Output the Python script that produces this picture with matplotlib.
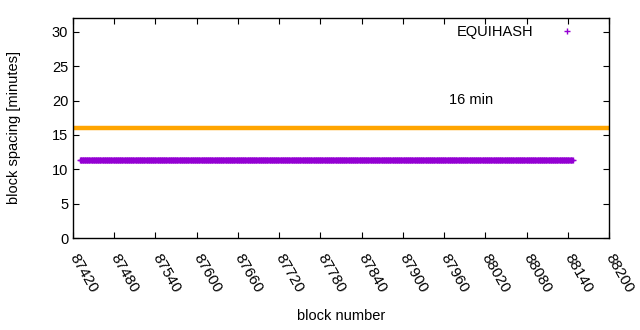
import numpy as np
import matplotlib
matplotlib.use("Agg")
import matplotlib.pyplot as plt

plt.rcParams['font.family'] = ['Liberation Sans', 'DejaVu Sans']

# --- data ---
blocks = np.arange(87430, 88148)          # block numbers
spacing = np.full(len(blocks), 11.4)       # block spacing in minutes
target = 16                                # target spacing
xticks = list(range(87420, 88201, 60))
yticks = [0, 5, 10, 15, 20, 25, 30]

fig = plt.figure(figsize=(6.4, 3.3), dpi=100)
ax = fig.add_axes([73/640, 92/330, 536/640, 220/330])

ax.axhline(target, color="#ffa500", lw=3.2, zorder=1)
ax.plot(blocks, spacing, ls="none", marker="+", ms=5, mew=1.0,
        color="#9400d3", label="EQUIHASH", zorder=2)
ax.text(87967, 20, "16 min", fontsize=10.5, ha="left", va="center")

ax.set_xlim(87420, 88200)
ax.set_ylim(0, 32)
ax.set_xticks(xticks)
ax.set_yticks(yticks)
ax.set_xticklabels([str(t) for t in xticks], rotation=-60, ha="left",
                   va="center", rotation_mode="anchor", fontsize=11)
ax.tick_params(axis="y", labelsize=10.5)
ax.tick_params(direction="in", top=True, right=True, length=4, width=0.8)
ax.tick_params(axis="x", pad=12)
for s in ax.spines.values():
    s.set_linewidth(1.0)

ax.set_xlabel("block number", fontsize=10.5, labelpad=10)
ax.set_ylabel("block spacing [minutes]", fontsize=10.5, labelpad=22)

ax.legend(loc="upper right", frameon=False, markerfirst=False, fontsize=10.5,
          handlelength=1.5, handletextpad=1.6, borderaxespad=0.1,
          bbox_to_anchor=(0.956, 1.0))

fig.savefig("out.png", dpi=100)
